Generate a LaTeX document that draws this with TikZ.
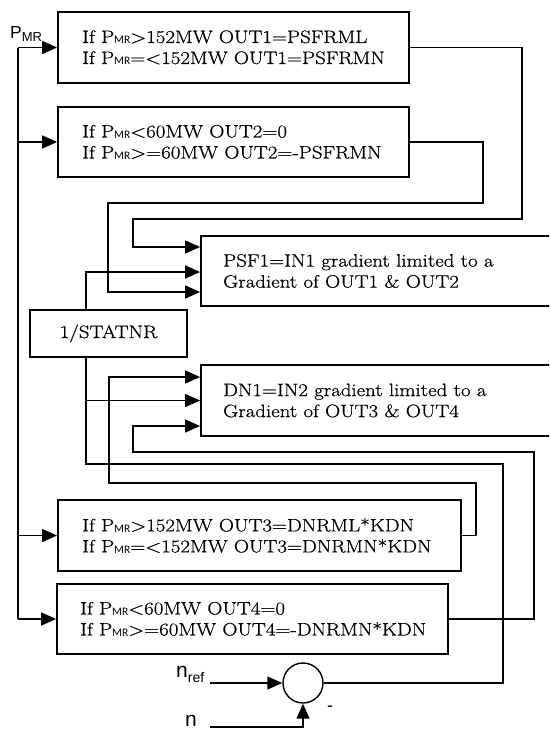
\documentclass[tikz,border=0pt]{standalone}
\usepackage{fontspec}
\setmainfont{Latin Modern Roman}[FakeStretch=1.16,FakeBold=0.7]
\setsansfont{Carlito}
\newfontfamily\lblfont{Liberation Sans}
\usetikzlibrary{arrows.meta}
\newcommand\sbMR{\raisebox{-0.7pt}{\fontsize{11.5}{11.5}\selectfont\sffamily MR}}
\newcommand\PMRt{P\sbMR}
\begin{document}
\begin{tikzpicture}[x=1pt,y=-1pt,
  blk/.style={draw, line width=1.8pt, inner sep=0pt},
  txt/.style={font=\fontsize{18}{21}\selectfont, align=left, anchor=west, inner sep=0pt},
  lbl/.style={font=\lblfont, inner sep=0pt, anchor=base west},
  wire/.style={line width=1.4pt},
  arr/.style={line width=1.4pt, -{Triangle[length=15pt,width=13pt]}}]
\useasboundingbox (0,0) rectangle (549,731);
\clip (0,0) rectangle (549,731);

% boxes
\node[blk, minimum width=351pt, minimum height=71pt] (b1) at (233.5,47.5) {};
\node[blk, minimum width=351pt, minimum height=70pt] (b2) at (233.5,142) {};
\node[blk, minimum width=359pt, minimum height=70pt] (psf) at (380.5,271) {};
\node[blk, minimum width=157pt, minimum height=47pt, font=\fontsize{18}{21}\selectfont] (stat) at (108.5,333.5) {1/STATNR};
\node[blk, minimum width=359pt, minimum height=71pt] (dn) at (380.5,400.5) {};
\node[blk, minimum width=403pt, minimum height=71pt] (b3) at (259.5,535.5) {};
\node[blk, minimum width=391pt, minimum height=70pt] (b4) at (252.5,619) {};
\node[draw, circle, line width=1.4pt, minimum size=40pt, inner sep=0pt] (sum) at (303,683) {};

% texts
\node[txt] (t1) at (82,47.5) {If \PMRt>152MW OUT1=PSFRML\\If \PMRt=<152MW OUT1=PSFRMN};
\node[txt] (t2) at (82,142) {If \PMRt<60MW OUT2=0\\If \PMRt>=60MW OUT2=-PSFRMN};
\node[txt] (tpsf) at (223,271) {PSF1=IN1 gradient limited to a\\Gradient of OUT1 \& OUT2};
\node[txt] (tdn) at (223,400.5) {DN1=IN2 gradient limited to a\\Gradient of OUT3 \& OUT4};
\node[txt] (t3) at (82,535.5) {If \PMRt>152MW OUT3=DNRML*KDN\\If \PMRt=<152MW OUT3=DNRMN*KDN};
\node[txt] (t4) at (80,619) {If \PMRt<60MW OUT4=0\\If \PMRt>=60MW OUT4=-DNRMN*KDN};

% labels
\node[lbl] (pmrl) at (10,38) {\fontsize{17.5}{17.5}\selectfont P\raisebox{-3pt}{\fontsize{13}{13}\selectfont MR}};
\node[lbl] (nrefl) at (176,677) {\fontsize{21}{21}\selectfont n\raisebox{-5pt}{\fontsize{14}{14}\selectfont ref}};
\node[lbl] (nl) at (185,726) {\fontsize{21}{21}\selectfont n};
\node[lbl] (minus) at (327,711) {\fontsize{18}{18}\selectfont -};

% P_MR bus
\coordinate (pm) at (18,47.5);
\coordinate (pmend) at (18,619);
\draw[wire] (pm) -- (pmend);
\draw[arr] (pm) -- (b1.west);
\draw[arr] (pm |- b2.west) -- (b2.west);
\draw[arr] (pm |- b3.west) -- (b3.west);
\draw[arr] (pmend) -- (b4.west);

% OUT1 -> PSF top
\draw[arr] (b1.east) -- (522,47.5) -- (522,219) -- (133,219) -- (133,247) -- (psf.west |- 0,247);
% OUT2 -> PSF bottom
\draw[arr] (b2.east) -- (483,142) -- (483,203) -- (108,203) -- (108,292) -- (psf.west |- 0,292);
% 1/STATNR -> PSF middle
\draw[arr] (stat.north -| 86,0) -- (86,272) -- (psf.west |- 0,272);
% 1/STATNR <-> sum, branch to DN middle
\draw[wire] (stat.south -| 86,0) -- (86,464) -- (503,464) -- (503,683) -- (sum.east);
\draw[arr] (86,400.5) -- (dn.west);
% OUT3 -> DN top
\draw[arr] (b3.east) -- (476,535.5) -- (476,483) -- (109,483) -- (109,377) -- (dn.west |- 0,377);
% OUT4 -> DN bottom
\draw[arr] (b4.east) -- (534,619) -- (534,452) -- (133,452) -- (133,426) -- (dn.west |- 0,426);

% sum inputs
\coordinate (nrefin) at (210,683);
\coordinate (nin) at (210,727);
\draw[arr] (nrefin) -- (sum.west);
\draw[arr] (nin) -- (sum.south |- nin) -- (sum.south);
\end{tikzpicture}
\end{document}
